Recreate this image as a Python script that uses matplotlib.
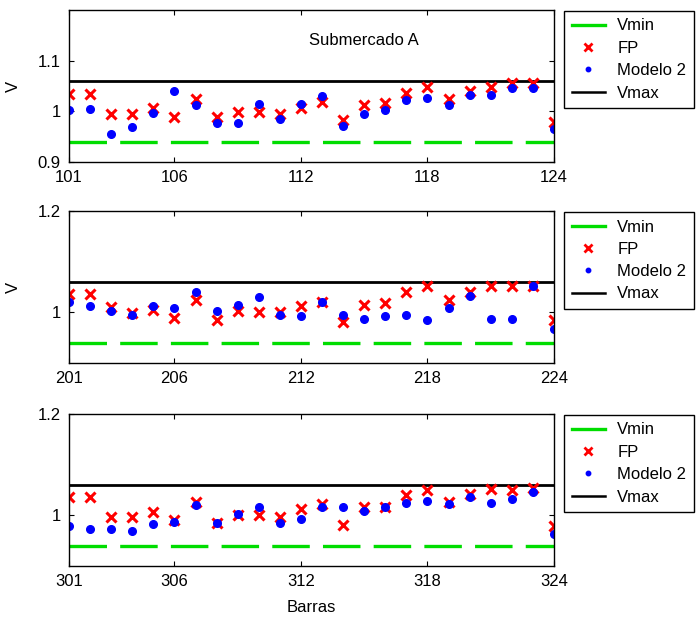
import matplotlib
matplotlib.use("Agg")
import matplotlib.pyplot as plt
from matplotlib.lines import Line2D
import numpy as np

plt.rcParams['font.family'] = ['Liberation Sans', 'DejaVu Sans']
plt.rcParams['lines.scale_dashes'] = False

# ---- data ----
bars_a = list(range(101, 125))
bars_b = list(range(201, 225))
bars_c = list(range(301, 325))

fp_a = [1.035, 1.035, 0.995, 0.995, 1.007, 0.989, 1.025, 0.988, 0.999, 0.999, 0.995, 1.007,
        1.019, 0.982, 1.013, 1.017, 1.036, 1.048, 1.025, 1.040, 1.048, 1.055, 1.055, 0.978]
m2_a = [1.003, 1.005, 0.956, 0.970, 0.997, 1.041, 1.013, 0.977, 0.977, 1.015, 0.985, 1.015,
        1.030, 0.972, 0.994, 1.002, 1.022, 1.026, 1.013, 1.032, 1.032, 1.046, 1.046, 0.966]

fp_b = [1.037, 1.037, 1.010, 0.999, 1.005, 0.989, 1.025, 0.985, 1.002, 1.000, 1.000, 1.012,
        1.021, 0.981, 1.015, 1.018, 1.041, 1.051, 1.025, 1.040, 1.051, 1.051, 1.051, 0.985]
m2_b = [1.020, 1.012, 1.003, 0.995, 1.012, 1.009, 1.041, 1.003, 1.015, 1.031, 0.995, 0.992,
        1.020, 0.995, 0.987, 0.992, 0.995, 0.985, 1.009, 1.033, 0.987, 0.987, 1.051, 0.968]

fp_c = [1.037, 1.037, 0.997, 0.997, 1.007, 0.991, 1.026, 0.985, 1.000, 1.000, 0.997, 1.012,
        1.022, 0.981, 1.017, 1.017, 1.040, 1.050, 1.027, 1.042, 1.051, 1.050, 1.053, 0.979]
m2_c = [0.979, 0.974, 0.974, 0.970, 0.983, 0.987, 1.020, 0.985, 1.003, 1.017, 0.985, 0.992,
        1.017, 1.017, 1.009, 1.017, 1.025, 1.028, 1.023, 1.037, 1.025, 1.033, 1.047, 0.964]

vmin = 0.94
vmax = 1.06
titles = ["Submercado A", "Submercado B", "Submercado C"]
xticks_a = [101, 106, 112, 118, 124]
xticks_b = [201, 206, 212, 218, 224]
xticks_c = [301, 306, 312, 318, 324]
yticks_a = [0.9, 1.0, 1.1]
yticks_bc = [1.0, 1.2]
ytick_labels_a = ["0.9", "1", "1.1"]
ytick_labels_bc = ["1", "1.2"]
legend_labels = ["Vmin", "FP", "Modelo 2", "Vmax"]

panels = [
    (bars_a, fp_a, m2_a, xticks_a, yticks_a, ytick_labels_a, titles[0], "V", None),
    (bars_b, fp_b, m2_b, xticks_b, yticks_bc, ytick_labels_bc, titles[1], "V", None),
    (bars_c, fp_c, m2_c, xticks_c, yticks_bc, ytick_labels_bc, titles[2], None, "Barras"),
]

W, H = 698, 621
fig = plt.figure(figsize=(W / 100, H / 100), dpi=100)

left = 69 / W
width = (554 - 69) / W
tops = [10, 211, 414]
ax_h = 152

green = '#00dd00'
fs = 12

for (bars, fp, m2, xt, yt, ytl, title, ylab, xlab), top in zip(panels, tops):
    ax = fig.add_axes([left, 1 - (top + ax_h) / H, width, ax_h / H])
    ax.plot(bars, [vmin] * len(bars), color=green, lw=2.4, dashes=(27, 9.5))
    ax.plot(bars, [vmax] * len(bars), color='black', lw=2.0)
    ax.plot(bars, fp, linestyle='none', marker='x', color='red', ms=7, mew=2.2)
    ax.plot(bars, m2, linestyle='none', marker='o', color='blue', ms=5.5, mec='blue')
    ax.set_xlim(bars[0], bars[-1])
    ax.set_ylim(0.9, 1.2)
    ax.set_xticks(xt)
    ax.set_xticklabels([str(v) for v in xt])
    ax.set_yticks(yt)
    ax.set_yticklabels(ytl)
    ax.tick_params(direction='in', top=True, right=True, length=3.5, width=0.8,
                   labelsize=fs, pad=6)
    for s in ax.spines.values():
        s.set_linewidth(1.0)
    ax.text(115, 1.14, title, ha='center', va='center', fontsize=fs)
    if ylab:
        ax.set_ylabel(ylab, fontsize=fs, labelpad=12)
    if xlab:
        ax.set_xlabel(xlab, fontsize=fs, labelpad=8)

    handles = [
        Line2D([], [], color=green, lw=2.4),
        Line2D([], [], linestyle='none', marker='x', color='red', ms=6, mew=2),
        Line2D([], [], linestyle='none', marker='o', color='blue', ms=3.2),
        Line2D([], [], color='black', lw=1.8),
    ]
    leg = ax.legend(handles, legend_labels, loc='upper left',
                    bbox_to_anchor=(564 / W, 1 - (top + 1) / H),
                    bbox_transform=fig.transFigure, borderaxespad=0,
                    fontsize=fs, frameon=True, fancybox=False, framealpha=1,
                    edgecolor='black', handlelength=2.0, handletextpad=0.75,
                    labelspacing=0.44, borderpad=0.45)
    leg.get_frame().set_linewidth(1.0)

fig.savefig("out.png", dpi=100)
